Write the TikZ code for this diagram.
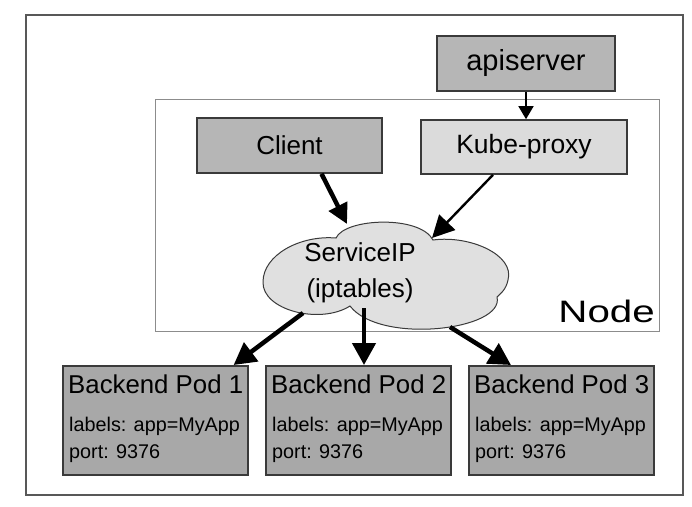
\documentclass[tikz,border=0pt]{standalone}
\usepackage{fontspec}
\setmainfont{Liberation Sans}
\usepackage{graphicx}
\usetikzlibrary{arrows.meta}
\definecolor{boxdark}{HTML}{B6B6B6}
\definecolor{boxlight}{HTML}{DBDBDB}
\definecolor{podgray}{HTML}{A8A8A8}
\definecolor{cloudgray}{HTML}{E0E0E0}
\definecolor{edgegray}{HTML}{3A3A3A}
\definecolor{framegray}{HTML}{8C8C8C}
\begin{document}
\begin{tikzpicture}[x=1pt,y=-1pt,
    box/.style={draw=edgegray,line width=1.6pt,inner sep=0pt},
    pod/.style={box,fill=podgray,minimum width=185pt,minimum height=109pt,anchor=north west},
    podtitle/.style={inner sep=0pt,anchor=base west,font=\fontsize{25.8}{26}\selectfont},
    podinfo/.style={inner sep=0pt,anchor=north west,align=left,font=\fontsize{19.8}{27}\selectfont},
    bigarrow/.style={line width=4.5pt,-{Triangle[length=22pt,width=23pt]}}]
    \useasboundingbox (0,0) rectangle (692,506);
    \draw[line width=1.5pt,draw=edgegray!85] (26,15) rectangle (683,495);
    \draw[line width=1pt,draw=framegray] (155,99) rectangle (659,331);
    \node[inner sep=0pt,anchor=base east,font=\fontsize{31}{31}\selectfont] (nodelabel) at (655,322) {\scalebox{1.3}[1]{Node}};
    \node[box,fill=boxdark,minimum width=178pt,minimum height=55pt,font=\fontsize{29}{29}\selectfont] (api) at (526,63.5) {apiserver};
    \node[box,fill=boxdark,minimum width=185pt,minimum height=55pt,font=\fontsize{26}{26}\selectfont] (client) at (289.5,145.5) {Client};
    \node[box,fill=boxlight,minimum width=206pt,minimum height=54pt,font=\fontsize{26.5}{26.5}\selectfont] (proxy) at (524,147) {Kube-proxy};
    \filldraw[fill=cloudgray,draw=edgegray,line width=1pt] (350,306)
        .. controls (320,325) and (262,310) .. (263,282)
        .. controls (263,255) and (300,235) .. (336,238)
        .. controls (345,218) and (420,215) .. (433,240)
        .. controls (470,235) and (515,255) .. (508,280)
        .. controls (506,290) and (500,294) .. (497,297)
        .. controls (505,330) and (380,345) .. (350,306) -- cycle;
    \node[inner sep=0pt,align=center,font=\fontsize{26}{36}\selectfont] (svc) at (360,273) {ServiceIP\\(iptables)};
    \coordinate (svctop) at (347,224);
    \coordinate (svcne) at (432,238);
    \coordinate (svcleft) at (303,313);
    \coordinate (svcmid) at (364,308);
    \coordinate (svcright) at (450,327);
    \node[pod] (pod1) at (62,365) {};
    \node[pod] (pod2) at (265,365) {};
    \node[pod] (pod3) at (468,365) {};
    \node[podtitle] (pod1title) at ([shift={(6,28)}]pod1.north west) {Backend Pod 1};
    \node[podtitle] (pod2title) at ([shift={(6,28)}]pod2.north west) {Backend Pod 2};
    \node[podtitle] (pod3title) at ([shift={(6,28)}]pod3.north west) {Backend Pod 3};
    \node[podinfo] (pod1info) at ([shift={(7,51.5)}]pod1.north west) {labels: app=MyApp\\port: 9376};
    \node[podinfo] (pod2info) at ([shift={(7,51.5)}]pod2.north west) {labels: app=MyApp\\port: 9376};
    \node[podinfo] (pod3info) at ([shift={(7,51.5)}]pod3.north west) {labels: app=MyApp\\port: 9376};
    \draw[line width=1.5pt,-{Triangle[length=13pt,width=15pt]}] (api.south) -- (api.south |- proxy.north);
    \draw[line width=4.5pt,-{Triangle[length=20pt,width=20pt]}] ([xshift=32pt]client.south) -- (svctop);
    \draw[line width=2.4pt,-{Triangle[length=22pt,width=22pt]}] ([xshift=-31pt]proxy.south) -- (svcne);
    \draw[bigarrow] (svcleft) -- ([xshift=-15pt]pod1.north east);
    \draw[bigarrow] (svcmid) -- (pod2.north -| svcmid);
    \draw[bigarrow] (svcright) -- ([xshift=43pt]pod3.north west);
\end{tikzpicture}
\end{document}
